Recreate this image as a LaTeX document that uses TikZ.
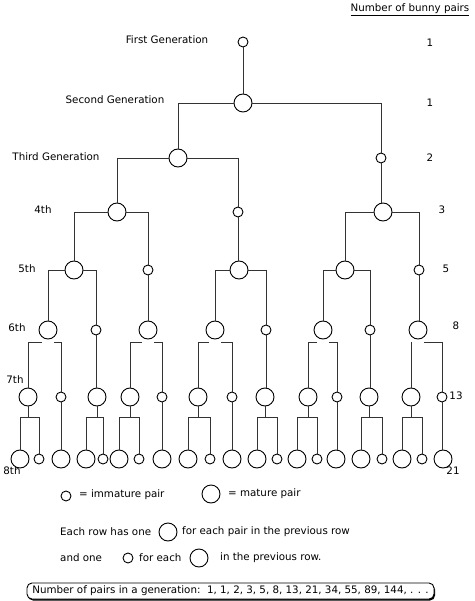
\documentclass[tikz,border=0pt]{standalone}
\usepackage{fontspec}
\setmainfont{DejaVu Sans}
\usepackage{tikz}
\usetikzlibrary{shadows}
\usetikzlibrary{calc}
\tikzstyle{mature}=[circle,draw,line width=0.9pt,minimum size=18pt,inner sep=0pt]
\tikzstyle{immature}=[circle,draw,line width=0.9pt,minimum size=10pt,inner sep=0pt]
\tikzstyle{edge} = [draw,line width=0.9pt,black!80]
\tikzstyle{label} = [inner sep=0pt,font=\fontsize{10.3}{12}\selectfont]
\tikzstyle{seqbox} = [draw,line width=0.9pt,rounded corners=5pt,fill=white,minimum width=407pt,minimum height=16pt,inner sep=0pt,
  drop shadow={shadow xshift=1pt,shadow yshift=-1.5pt,fill=black,opacity=1},font=\fontsize{10.3}{12}\selectfont]

\begin{document}
\begin{tikzpicture}[x=1pt,y=-1pt]
    \useasboundingbox (0,0) rectangle (474,601);

    % the mature pairs
    \foreach \pos/ \name in {{(243,103)/p2-1},{(178,158)/p3-1},{(117,212)/p4-1},{(383,212)/p4-3},
        {(74,270)/p5-1},{(239,270)/p5-3},{(345,270)/p5-4},
        {(48,330)/p6-1},{(148,330)/p6-3},{(215,330)/p6-4},{(323,330)/p6-6},{(418,330)/p6-8},
        {(28,397)/p7-1},{(97,397)/p7-3},{(130,397)/p7-4},{(198,397)/p7-6},{(265,397)/p7-8},
        {(308,397)/p7-9},{(369,397)/p7-11},{(411,397)/p7-12},
        {(20,459)/p8-1},{(61,459)/p8-3},{(86,459)/p8-4},{(119,459)/p8-6},{(162,459)/p8-8},
        {(188,459)/p8-9},{(232,459)/p8-11},{(257,459)/p8-12},{(297,459)/p8-14},{(336,459)/p8-16},
        {(361,459)/p8-17},{(402,459)/p8-19},{(443,459)/p8-21}}
        \node[mature] (\name) at \pos {};

    % the immature pairs
    \foreach \pos/ \name in {{(243,42)/p1-1},{(381,158)/p3-2},{(238,212)/p4-2},
        {(148,270)/p5-2},{(419,270)/p5-5},
        {(96,330)/p6-2},{(266,330)/p6-5},{(370,330)/p6-7},
        {(61,397)/p7-2},{(162,397)/p7-5},{(232,397)/p7-7},{(337,397)/p7-10},{(442,397)/p7-13},
        {(39,459)/p8-2},{(103,459)/p8-5},{(139,459)/p8-7},{(210,459)/p8-10},{(277,459)/p8-13},
        {(317,459)/p8-15},{(382,459)/p8-18},{(422,459)/p8-20}}
        \node[immature] (\name) at \pos {};

    % one pair grows up
    \foreach \source/ \dest in {p1-1/p2-1, p3-2/p4-3, p4-2/p5-3, p5-2/p6-3, p5-5/p6-8,
        p6-2/p7-3, p6-5/p7-8, p6-7/p7-11, p7-2/p8-3, p7-5/p8-8, p7-7/p8-11, p7-10/p8-16, p7-13/p8-21}
        \path[edge] (\source.south) -- (\source.south |- \dest.north);

    % a mature pair stays and has a new pair
    \foreach \source/ \destA/ \destB in {p2-1/p3-1/p3-2, p3-1/p4-1/p4-2, p4-1/p5-1/p5-2, p4-3/p5-4/p5-5,
        p5-1/p6-1/p6-2, p5-3/p6-4/p6-5, p5-4/p6-6/p6-7}
        \path[edge] (\source.west) -| (\destA.north) (\source.east) -| (\destB.north);

    \foreach \source/ \destA/ \destB in {p6-1/p7-1/p7-2, p6-3/p7-4/p7-5, p6-4/p7-6/p7-7, p6-6/p7-9/p7-10, p6-8/p7-12/p7-13}
        \path[edge] (\destA.north) |- ([shift={(-6pt,-3pt)}]\source.south)
                    (\destB.north) |- ([shift={(6pt,-3pt)}]\source.south);

    \foreach \source/ \destA/ \destB in {p7-1/p8-1/p8-2, p7-3/p8-4/p8-5, p7-4/p8-6/p8-7, p7-6/p8-9/p8-10,
        p7-8/p8-12/p8-13, p7-9/p8-14/p8-15, p7-11/p8-17/p8-18, p7-12/p8-19/p8-20}
        \path[edge] (\source.south) -- ([yshift=-11pt]\source.south)
                    (\destA.north) |- ([yshift=-11pt]\source.south) -| (\destB.north);

    % generation names
    \foreach \pos/ \name/ \txt in {{(167,40)/gen1/First Generation},{(115,100)/gen2/Second Generation},
        {(56,157)/gen3/Third Generation},{(43,210)/gen4/4th},{(27,269)/gen5/5th},{(17,328)/gen6/6th},
        {(15,380)/gen7/7th},{(12,471)/gen8/8th}}
        \node[label] (\name) at \pos {\txt};

    % number of pairs
    \node[label] (count) at (410,10) {\underline{Number of bunny pairs}};
    \foreach \pos/ \name/ \txt in {{(430,43)/n1/1},{(430,103)/n2/1},{(430,158)/n3/2},{(442,210)/n4/3},
        {(446,269)/n5/5},{(456,326)/n6/8},{(456,396)/n7/13},{(453,471)/n8/21}}
        \node[label] (\name) at \pos {\txt};

    % legend
    \node[immature] (leg-imm) at (66,496) {};
    \node[label,anchor=west] (leg-imm-txt) at (79,495) {= immature pair};
    \node[mature] (leg-mat) at (211,494) {};
    \node[label,anchor=west] (leg-mat-txt) at (228,494) {= mature pair};

    \node[label,anchor=west] (rule1) at (60,532) {Each row has one};
    \node[mature] (rule1-mat) at (168,532) {};
    \node[label,anchor=west] (rule1-end) at (182,532) {for each pair in the previous row};

    \node[label,anchor=west] (rule2) at (60,558) {and one};
    \node[immature] (rule2-imm) at (128,558) {};
    \node[label,anchor=west] (rule2-mid) at (139,558) {for each};
    \node[mature] (rule2-mat) at (199,558) {};
    \node[label,anchor=west] (rule2-end) at (220,558) {in the previous row.};

    \node[seqbox] (seq) at (230.5,591) {Number of pairs in a generation:\ \ 1, 1, 2, 3, 5, 8, 13, 21, 34, 55, 89, 144, . . .};

\end{tikzpicture}
\end{document}
